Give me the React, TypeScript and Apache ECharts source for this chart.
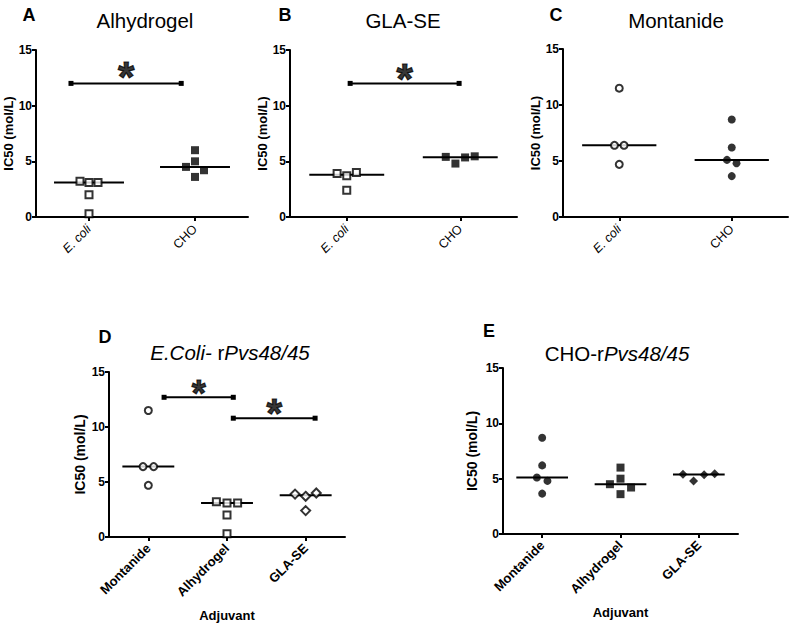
import React, { useEffect, useRef } from "react";
import * as echarts from "echarts";

// ---------------- data ----------------
const strainCategories = ["E. coli", "CHO"];
const adjuvantCategories = ["Montanide", "Alhydrogel", "GLA-SE"];
const yTickInterval = 5;
const yMax = 15;

// IC50 (mol/L) per animal
const alhydrogelEcoli = [3.2, 3.1, 3.1, 2.0, 0.3];
const alhydrogelCho = [4.5, 6.0, 5.0, 4.2, 3.6];
const glaseEcoli = [3.9, 3.7, 4.0, 2.4];
const glaseCho = [5.4, 4.8, 5.35, 5.45];
const montanideEcoli = [11.5, 6.4, 6.4, 4.7];
const montanideCho = [8.7, 6.2, 5.1, 4.8, 3.65];

// horizontal slot of each point (scatter jitter, in marker widths)
const alhydrogelEcoliSlot = [-1, 0, 1, 0, 0];
const alhydrogelChoSlot = [-1, 0, 0, 1, 0];
const glaseEcoliSlot = [-1, 0, 1, 0];
const glaseChoSlot = [-1.5, -0.5, 0.5, 1.5];
const montanideEcoliSlot = [0, -0.5, 0.5, 0];
const montanideChoSlot = [0, 0, -0.5, 0.5, 0];

// significance brackets: [from, to, level] in category units (category i centred at i + 0.5)
const bracketsA = [[0.33, 1.37, 12]];
const bracketsB = [[0.53, 1.49, 12]];
const bracketsC: number[][] = [];
const bracketsD = [[0.7, 1.58, 12.7], [1.58, 2.62, 10.8]];
const bracketsE: number[][] = [];
const significanceMark = "*";

// ---------------- helpers ----------------
const FONT = 'Arial, "Liberation Sans", Helvetica, sans-serif';

function median(a: number[]) {
  const s = [...a].sort((x, y) => x - y);
  const n = s.length;
  return n % 2 ? s[(n - 1) / 2] : (s[n / 2 - 1] + s[n / 2]) / 2;
}

type Group = { values: number[]; slots: number[]; symbol: string; filled: boolean };
type Panel = {
  grid: { left: number; top: number; width: number; height: number };
  categories: any[];
  groups: Group[];
  brackets: number[][];
  starSize: number[];
  starLift: number[];
  spread: number;
  nameGap: number;
  nameSize: number;
  labelBold: boolean;
  labelSize: number;
  labelMargin: number;
  xName?: string;
};

const openStyle = { color: "#fff", borderColor: "#000", borderWidth: 2 };
const fillStyle = { color: "#000", borderWidth: 0 };

function symbolSize(symbol: string, filled: boolean) {
  if (symbol === "diamond") return 9;
  if (symbol === "circle") return filled ? 8 : 7;
  return filled ? 8 : 7;
}

const ecoliCats = strainCategories.map((c, i) =>
  i === 0 ? { value: c, textStyle: { fontStyle: "italic" } } : c
);

const panels: Panel[] = [
  {
    grid: { left: 36, top: 50, width: 212, height: 167 },
    categories: ecoliCats,
    groups: [
      { values: alhydrogelEcoli, slots: alhydrogelEcoliSlot, symbol: "rect", filled: false },
      { values: alhydrogelCho, slots: alhydrogelChoSlot, symbol: "rect", filled: true },
    ],
    brackets: bracketsA,
    starSize: [42],
    starLift: [7],
    spread: 0.085,
    nameGap: 15,
    nameSize: 13,
    labelBold: false,
    labelSize: 12.5,
    labelMargin: 10,
  },
  {
    grid: { left: 290, top: 50, width: 227, height: 167 },
    categories: ecoliCats,
    groups: [
      { values: glaseEcoli, slots: glaseEcoliSlot, symbol: "rect", filled: false },
      { values: glaseCho, slots: glaseChoSlot, symbol: "rect", filled: true },
    ],
    brackets: bracketsB,
    starSize: [42],
    starLift: [5],
    spread: 0.085,
    nameGap: 21,
    nameSize: 13,
    labelBold: false,
    labelSize: 12.5,
    labelMargin: 10,
  },
  {
    grid: { left: 563, top: 49, width: 225, height: 168 },
    categories: ecoliCats,
    groups: [
      { values: montanideEcoli, slots: montanideEcoliSlot, symbol: "circle", filled: false },
      { values: montanideCho, slots: montanideChoSlot, symbol: "circle", filled: true },
    ],
    brackets: bracketsC,
    starSize: [],
    starLift: [],
    spread: 0.085,
    nameGap: 21,
    nameSize: 13,
    labelBold: false,
    labelSize: 12.5,
    labelMargin: 10,
  },
  {
    grid: { left: 109, top: 372, width: 236, height: 165 },
    categories: adjuvantCategories,
    groups: [
      { values: montanideEcoli, slots: montanideEcoliSlot, symbol: "circle", filled: false },
      { values: alhydrogelEcoli, slots: alhydrogelEcoliSlot, symbol: "rect", filled: false },
      { values: glaseEcoli, slots: glaseEcoliSlot, symbol: "diamond", filled: false },
    ],
    brackets: bracketsD,
    starSize: [36, 40],
    starLift: [4, 5],
    spread: 0.135,
    nameGap: 22,
    nameSize: 14,
    labelBold: true,
    labelSize: 13,
    labelMargin: 9,
    xName: "Adjuvant",
  },
  {
    grid: { left: 503, top: 368, width: 235, height: 166 },
    categories: adjuvantCategories,
    groups: [
      { values: montanideCho, slots: montanideChoSlot, symbol: "circle", filled: true },
      { values: alhydrogelCho, slots: alhydrogelChoSlot, symbol: "rect", filled: true },
      { values: glaseCho, slots: glaseChoSlot, symbol: "diamond", filled: true },
    ],
    brackets: bracketsE,
    starSize: [],
    starLift: [],
    spread: 0.135,
    nameGap: 24,
    nameSize: 14,
    labelBold: true,
    labelSize: 13,
    labelMargin: 9,
    xName: "Adjuvant",
  },
];

function buildOption() {
  const grid: any[] = [];
  const xAxis: any[] = [];
  const yAxis: any[] = [];
  const series: any[] = [];

  panels.forEach((p, pi) => {
    grid.push({ ...p.grid, containLabel: false });
    const n = p.categories.length;
    xAxis.push({
      type: "category",
      gridIndex: pi,
      data: p.categories,
      boundaryGap: true,
      name: p.xName || "",
      nameLocation: "middle",
      nameGap: 72,
      nameTextStyle: { fontFamily: FONT, fontWeight: "bold", fontSize: 13, color: "#000" },
      axisLine: { show: true, lineStyle: { color: "#000", width: 2 } },
      axisTick: { show: true, alignWithLabel: true, length: 4, lineStyle: { color: "#000", width: 2 } },
      axisLabel: {
        rotate: 45,
        margin: p.labelMargin,
        interval: 0,
        color: "#000",
        fontFamily: FONT,
        fontSize: p.labelSize,
        fontWeight: p.labelBold ? "bold" : "normal",
      },
      splitLine: { show: false },
    });
    xAxis.push({ type: "value", gridIndex: pi, min: 0, max: n, show: false });
    yAxis.push({
      type: "value",
      gridIndex: pi,
      min: 0,
      max: yMax,
      interval: yTickInterval,
      name: "IC50 (mol/L)",
      nameLocation: "middle",
      nameGap: p.nameGap,
      nameRotate: 90,
      nameTextStyle: { fontFamily: FONT, fontWeight: "bold", fontSize: p.nameSize, color: "#000" },
      axisLine: { show: true, onZero: false, lineStyle: { color: "#000", width: 2 } },
      axisTick: { show: true, length: 4, lineStyle: { color: "#000", width: 2 } },
      axisLabel: { color: "#000", fontFamily: FONT, fontWeight: "bold", fontSize: 12, margin: 4 },
      splitLine: { show: false },
    });

    const xi = pi * 2 + 1;
    p.groups.forEach((g, gi) => {
      const c = gi + 0.5;
      const m = median(g.values);
      series.push({
        type: "line",
        xAxisIndex: xi,
        yAxisIndex: pi,
        data: [
          [c - 0.33, m],
          [c + 0.33, m],
        ],
        symbol: "none",
        lineStyle: { color: "#000", width: 2 },
        silent: true,
        z: 2,
      });
      series.push({
        type: "scatter",
        xAxisIndex: xi,
        yAxisIndex: pi,
        data: g.values.map((v, i) => [c + g.slots[i] * p.spread, v]),
        symbol: g.symbol,
        symbolSize: symbolSize(g.symbol, g.filled),
        itemStyle: g.filled ? fillStyle : openStyle,
        z: 3,
      });
    });
    p.brackets.forEach(([from, to, lvl], bi) => {
      series.push({
        type: "line",
        xAxisIndex: xi,
        yAxisIndex: pi,
        data: [
          [from, lvl],
          [to, lvl],
        ],
        symbol: "rect",
        symbolSize: [5, 5],
        itemStyle: { color: "#000" },
        lineStyle: { color: "#000", width: 2 },
        silent: true,
        z: 2,
      });
      series.push({
        type: "scatter",
        xAxisIndex: xi,
        yAxisIndex: pi,
        data: [[(from + to) / 2, lvl]],
        symbolSize: 0,
        itemStyle: { color: "#000" },
        silent: true,
        label: {
          show: true,
          formatter: significanceMark,
          position: "inside",
          offset: [0, -p.starLift[bi]],
          fontFamily: FONT,
          fontWeight: "bold",
          fontSize: p.starSize[bi],
          color: "#000",
          textBorderColor: "#000",
          textBorderWidth: 1.2,
        },
        z: 4,
      });
    });
  });

  const letter = (t: string, x: number, y: number) => ({
    type: "text",
    x,
    y,
    style: {
      text: t,
      fontFamily: FONT,
      fontWeight: "bold",
      fontSize: 18,
      fill: "#000",
      textAlign: "center",
      textVerticalAlign: "middle",
    },
  });
  const title = (t: string, x: number, y: number) => ({
    type: "text",
    x,
    y,
    style: {
      text: t,
      fontFamily: FONT,
      fontSize: 20.5,
      fill: "#000",
      textAlign: "center",
      textVerticalAlign: "middle",
      rich: { i: { fontStyle: "italic", fontFamily: FONT, fontSize: 20.5, fill: "#000" } },
    },
  });

  const graphic = [
    letter("A", 29, 15),
    letter("B", 285, 15),
    letter("C", 556, 15),
    letter("D", 105, 337),
    letter("E", 489, 331),
    title("Alhydrogel", 145, 20),
    title("GLA-SE", 403, 20),
    title("Montanide", 676, 20),
    title("{i|E.Coli-} r{i|Pvs48/45}", 230, 352),
    title("CHO-r{i|Pvs48/45}", 617, 353),
  ];

  return {
    animation: false,
    backgroundColor: "#fff",
    grid,
    xAxis,
    yAxis,
    series,
    graphic,
  };
}

export default function App() {
  const ref = useRef<HTMLDivElement>(null);
  useEffect(() => {
    if (!ref.current) return;
    const chart = echarts.init(ref.current, undefined, { renderer: "svg" });
    chart.setOption(buildOption() as any);
    return () => chart.dispose();
  }, []);
  return (
    <div
      ref={ref}
      style={{ position: "absolute", left: 0, top: 0, width: 795, height: 627, background: "#fff" }}
    />
  );
}
